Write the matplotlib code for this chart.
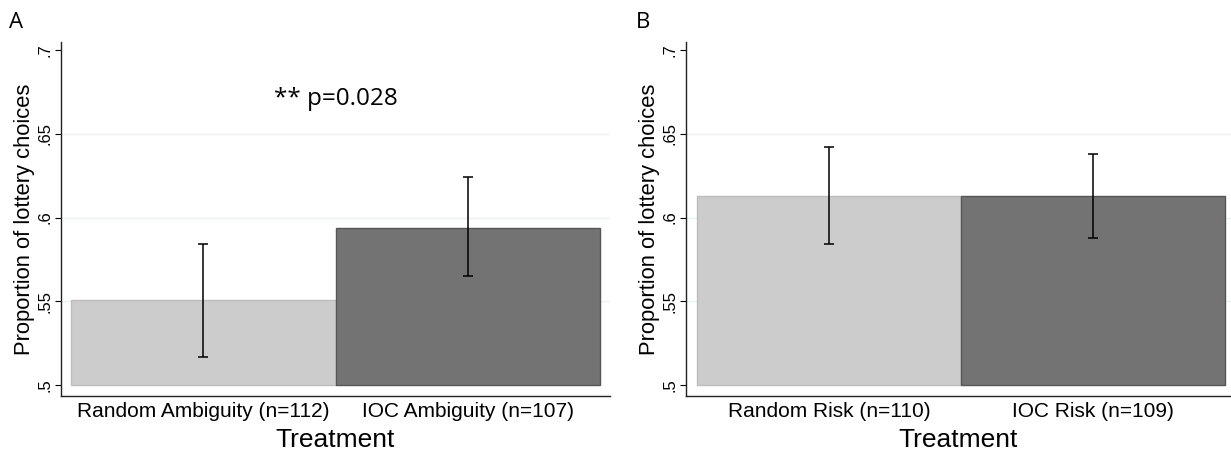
import numpy as np
import matplotlib.pyplot as plt

# data
labels_a = ["Random Ambiguity (n=112)", "IOC Ambiguity (n=107)"]
means_a = [0.551, 0.594]
lo_a = [0.517, 0.565]
hi_a = [0.584, 0.624]

labels_b = ["Random Risk (n=110)", "IOC Risk (n=109)"]
means_b = [0.613, 0.613]
lo_b = [0.584, 0.588]
hi_b = [0.642, 0.638]

yticks = [0.5, 0.55, 0.6, 0.65, 0.7]
ytick_labels = [".5", ".55", ".6", ".65", ".7"]

FILL = ["#cccccc", "#737373"]
EDGE = ["#bdbdbd", "#555555"]
GRID = "#eaf2f3"

plt.rcParams['font.family'] = ['Liberation Sans', 'DejaVu Sans']

fig = plt.figure(figsize=(12.31, 4.54), dpi=100)

def panel(rect, labels, means, lo, hi, letter, letter_x, xlim):
    ax = fig.add_axes(rect)
    x = np.arange(len(means))
    base = 0.5
    heights = [m - base for m in means]
    ax.bar(x, heights, bottom=base, width=1.0, color=FILL, edgecolor=EDGE,
           linewidth=1, zorder=2)
    yerr = [[m - l for m, l in zip(means, lo)], [h - m for m, h in zip(means, hi)]]
    ax.errorbar(x, means, yerr=yerr, fmt="none", ecolor="black", elinewidth=1.1,
                capsize=3.5, capthick=1.1, zorder=3)
    ax.set_ylim(0.4935, 0.7048)
    ax.set_xlim(*xlim)
    ax.set_yticks(yticks)
    ax.set_yticklabels(ytick_labels, rotation=90, va="center", fontsize=12)
    for y in [0.55, 0.6, 0.65]:
        ax.axhline(y, color=GRID, lw=1, zorder=1)
    ax.set_xticks(x)
    ax.set_xticklabels(labels, fontsize=15)
    ax.tick_params(axis="x", length=0, pad=4)
    ax.tick_params(axis="y", length=4, width=0.8, pad=2)
    for s in ["top", "right"]:
        ax.spines[s].set_visible(False)
    for s in ["left", "bottom"]:
        ax.spines[s].set_linewidth(1.0)
        ax.spines[s].set_color("#222222")
    ax.set_ylabel("Proportion of lottery choices", fontsize=15.8, labelpad=2)
    ax.set_xlabel("Treatment", fontsize=19, labelpad=5.5)
    fig.text(letter_x, 0.95, letter, fontsize=16, family="Open Sans",
             ha="left", va="center")
    return ax

ax_a = panel([61 / 1231, 1 - 396 / 454, 549 / 1231, 354 / 454],
             labels_a, means_a, lo_a, hi_a, "A", 9 / 1231, (-0.538, 1.538))
ax_a.text(0.5, 0.671, "** p=0.028", fontsize=17.5, family="Open Sans",
          ha="center", va="center")

panel([686 / 1231, 1 - 396 / 454, 545 / 1231, 354 / 454],
      labels_b, means_b, lo_b, hi_b, "B", 636 / 1231, (-0.542, 1.523))

fig.savefig("out.png", dpi=100)
